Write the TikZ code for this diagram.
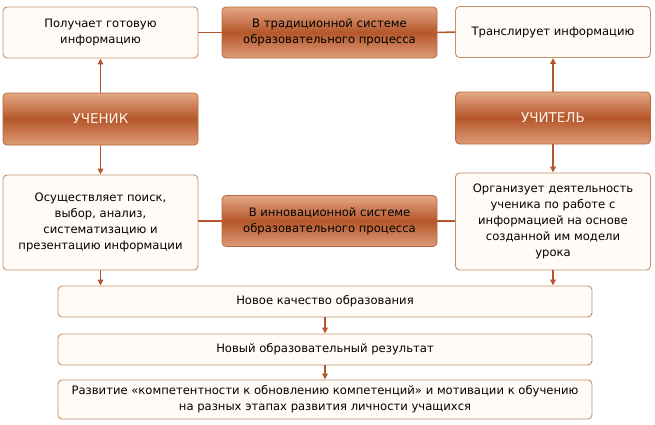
\documentclass[tikz,border=0pt]{standalone}
\usepackage{fontspec}
\setmainfont{DejaVu Sans}
\usetikzlibrary{arrows.meta, positioning}
\definecolor{rustdark}{HTML}{B5562A}
\definecolor{rustlight}{HTML}{E4A886}
\definecolor{rustedge}{HTML}{B8683F}
\definecolor{paleedge}{HTML}{C4906C}
\definecolor{palefill}{HTML}{FFFCF7}

\begin{document}
\begin{tikzpicture}[
  x=1pt, y=-1pt,
  plain/.style={
    rectangle, rounded corners=4pt,
    minimum width=195pt, minimum height=51pt,
    fill=palefill, draw=paleedge, line width=0.9pt,
    align=center, font=\fontsize{11.6}{16}\selectfont
  },
  rust/.style={
    rectangle, rounded corners=4pt,
    minimum width=215pt, minimum height=51pt,
    top color=rustlight, bottom color=rustlight!85!rustdark, middle color=rustdark,
    draw=rustedge, line width=0.8pt,
    align=center, font=\fontsize{11.6}{16}\selectfont
  },
  role/.style={
    rust, minimum width=195pt, minimum height=52pt,
    text=white!92!orange, font=\fontsize{13.5}{15}\selectfont
  },
  bar/.style={
    plain, minimum width=534pt, minimum height=31pt
  },
  arr/.style={-{Triangle[length=6pt, width=5.5pt]}, draw=rustdark, line width=1.5pt},
  link/.style={draw=rustdark, line width=1.5pt}
]
  \useasboundingbox (0,0) rectangle (655,424);

  % Top row: traditional system
  \node[plain] (gets)  at (100.5,32.5) {Получает готовую\\информацию};
  \node[rust]  (trad)  at (329.5,32.5) {В традиционной системе\\образовательного процесса};
  \node[plain] (trans) at (553,32)     {Транслирует информацию};

  % Roles
  \node[role] (pupil)   at (100.5,119) {УЧЕНИК};
  \node[role] (teacher) at (553,118)   {УЧИТЕЛЬ};

  % Middle row: innovative system
  \node[plain, minimum height=95pt] (search) at (100.5,222.5)
        {Осуществляет поиск,\\выбор, анализ,\\систематизацию и\\презентацию информации};
  \node[rust] (innov) at (329.5,221) {В инновационной системе\\образовательного процесса};
  \node[plain, minimum height=97pt] (organize) at (553,221.5)
        {Организует деятельность\\ученика по работе с\\информацией на основе\\созданной им модели\\урока};

  % Results
  \node[bar] (quality) at (325,301.5) {Новое качество образования};
  \node[bar] (result)  at (325,349.5) {Новый образовательный результат};
  \node[bar, minimum height=39pt] (develop) at (325,399.5)
        {Развитие «компетентности к обновлению компетенций» и мотивации к обучению\\на разных этапах развития личности учащихся};

  % Links between columns
  \draw[link] (gets.east)   -- (trad.west);
  \draw[link] (trad.east)   -- (trans.west);
  \draw[link] (search.east |- innov) -- (innov.west);
  \draw[link] (innov.east)  -- (organize.west |- innov);

  % Role arrows
  \draw[arr] (pupil.north)   -- (gets.south);
  \draw[arr] (pupil.south)   -- (search.north);
  \draw[arr] (teacher.north) -- (trans.south);
  \draw[arr] (teacher.south) -- (organize.north);

  % Down to results
  \draw[arr] (search.south)   -- (search.south |- quality.north);
  \draw[arr] (organize.south) -- (organize.south |- quality.north);
  \draw[arr] (quality.south)  -- (result.north);
  \draw[arr] (result.south)   -- (develop.north);
\end{tikzpicture}
\end{document}
